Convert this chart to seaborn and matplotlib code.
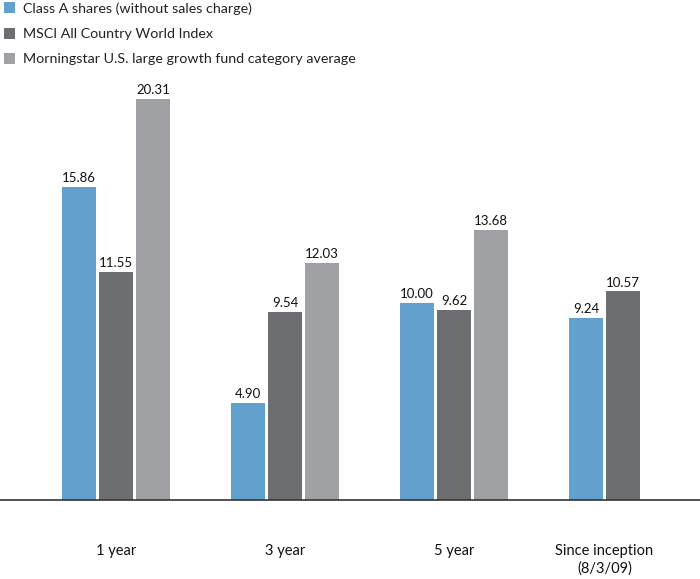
import matplotlib
matplotlib.use("Agg")
import matplotlib.pyplot as plt
import seaborn as sns
import pandas as pd
import numpy as np
from matplotlib.patches import Patch

periods = ["1 year", "3 year", "5 year", "Since inception\n(8/3/09)"]
series = ["Class A shares (without sales charge)",
          "MSCI All Country World Index",
          "Morningstar U.S. large growth fund category average"]
class_a = [15.86, 4.90, 10.00, 9.24]
msci = [11.55, 9.54, 9.62, 10.57]
morningstar = [20.31, 12.03, 13.68, None]
colors = ["#62a0cd", "#6d6e72", "#a0a1a5"]

rows = []
for name, vals in zip(series, [class_a, msci, morningstar]):
    for p, v in zip(periods, vals):
        rows.append({"period": p, "series": name, "value": v})
df = pd.DataFrame(rows)

sns.set_style("white")
plt.rcParams["font.family"] = ["Lato", "DejaVu Sans"]

fig = plt.figure(figsize=(7.0, 5.79), dpi=100)
ax = fig.add_axes([0, (579 - 500) / 579, 1, 500 / 579])
sns.barplot(data=df, x="period", y="value", hue="series", order=periods,
            hue_order=series, palette=colors, width=0.657, gap=0.09,
            saturation=1, ax=ax, legend=False, edgecolor="none")

for cont in ax.containers:
    labels = [f"{v:.2f}" if not np.isnan(v) else "" for v in cont.datavalues]
    ax.bar_label(cont, labels=labels, padding=2, fontsize=9.5, color="#111111")

ax.set_xlim(-116 / 169, (700 - 116) / 169)
ax.set_ylim(0, 500 / 19.74)
ax.set_xlabel("")
ax.set_ylabel("")
ax.set_yticks([])
ax.set_xticks([0, 1, 2, 2.89])
ax.set_xticklabels(periods, fontsize=10.5, color="#111111", linespacing=1.25)
ax.tick_params(axis="x", length=0, pad=32)
for s in ["top", "right", "left"]:
    ax.spines[s].set_visible(False)
ax.spines["bottom"].set_color("#333333")
ax.spines["bottom"].set_linewidth(1.2)

handles = [Patch(facecolor=c, edgecolor="none") for c in colors]
fig.legend(handles, series, loc="upper left", bbox_to_anchor=(-0.003, 1.006),
           frameon=False, fontsize=10.3, handlelength=0.8, handleheight=0.8,
           handletextpad=0.55, labelspacing=0.9, borderaxespad=0,
           labelcolor="#222222")

fig.savefig("out.png", dpi=100)
